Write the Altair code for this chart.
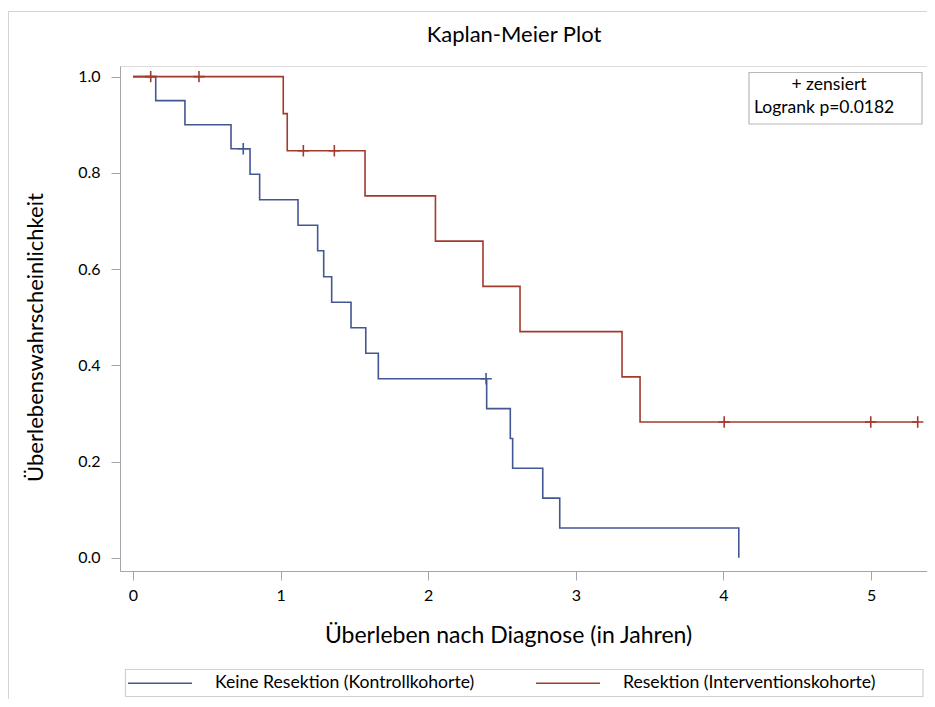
import altair as alt
import pandas as pd

BLUE = "#445694"
RED = "#A23A2E"
FONT = "Lato"

groups = ["Keine Resektion (Kontrollkohorte)", "Resektion (Interventionskohorte)"]

# step curves: time of each event and survival after it
blue_t = [0, 0.154, 0.352, 0.664, 0.793, 0.858, 1.118, 1.251, 1.292, 1.346, 1.477, 1.577, 1.662, 2.396, 2.556, 2.572, 2.776, 2.891, 4.104]
blue_s = [1.0, 0.950, 0.900, 0.850, 0.797, 0.744, 0.691, 0.638, 0.584, 0.531, 0.478, 0.425, 0.372, 0.310, 0.248, 0.186, 0.124, 0.062, 0.0]
red_t = [0, 1.018, 1.045, 1.572, 2.049, 2.371, 2.622, 3.313, 3.435, 5.320]
red_s = [1.0, 0.923, 0.846, 0.752, 0.658, 0.564, 0.470, 0.376, 0.282, 0.282]

# censored observations
blue_cens_t = [0.747, 2.392]
blue_cens_s = [0.850, 0.372]
red_cens_t = [0.120, 0.447, 1.154, 1.364, 4.005, 4.998, 5.316]
red_cens_s = [1.0, 1.0, 0.846, 0.846, 0.282, 0.282, 0.282]

x_ticks = [0, 1, 2, 3, 4, 5]
y_ticks = [0.0, 0.2, 0.4, 0.6, 0.8, 1.0]

title_text = "Kaplan-Meier Plot"
note_lines = ["+ zensiert", "Logrank p=0.0182"]

curves = pd.DataFrame(
    {"t": blue_t + red_t,
     "s": blue_s + red_s,
     "g": [groups[0]] * len(blue_t) + [groups[1]] * len(red_t),
     "o": list(range(len(blue_t))) + list(range(len(red_t)))}
)
bc = pd.DataFrame({"t": blue_cens_t, "s": blue_cens_s})
rc = pd.DataFrame({"t": red_cens_t, "s": red_cens_s})

W, H = 807, 505
AXC = "#a3a7ab"

xs = alt.Scale(domain=[-0.088, 5.379], nice=False, zero=False)
ys = alt.Scale(domain=[-0.0275, 1.022], nice=False, zero=False)

xax = alt.Axis(values=x_ticks, format="d", title="Überleben nach Diagnose (in Jahren)",
               grid=False, tickSize=9, labelPadding=7, domainColor=AXC, tickColor=AXC,
               labelFont=FONT, labelFontSize=16, labelColor="black",
               titleFont=FONT, titleFontSize=23, titleFontWeight="normal", titleColor="black",
               titleX=388, titleY=64, titleBaseline="middle", titleAlign="center")
yax = alt.Axis(values=y_ticks, format=".1f", title="Überlebenswahrscheinlichkeit",
               grid=False, tickSize=9, labelPadding=11, domainColor=AXC, tickColor=AXC,
               labelFont=FONT, labelFontSize=16, labelColor="black",
               titleFont=FONT, titleFontSize=22, titleFontWeight="normal", titleColor="black",
               titleX=-85, titleY=271, titleBaseline="middle", titleAlign="center", titleAngle=-90)

lines = alt.Chart(curves).mark_line(interpolate="step-after", strokeWidth=1.6).encode(
    x=alt.X("t:Q", scale=xs, axis=xax),
    y=alt.Y("s:Q", scale=ys, axis=yax),
    order="o:Q",
    color=alt.Color("g:N", scale=alt.Scale(domain=groups, range=[BLUE, RED]),
                    legend=alt.Legend(title=None, orient="none", legendX=7, legendY=584,
                                      direction="horizontal", symbolType="stroke",
                                      symbolSize=4096, symbolStrokeWidth=1.5,
                                      labelFont=FONT, labelFontSize=17.6, labelColor="black",
                                      labelOffset=22, columnPadding=58, padding=0,
                                      labelLimit=400)),
)

PLUS = "M-1,0L1,0M0,-1L0,1"
bpts = alt.Chart(bc).mark_point(shape=PLUS, size=130, filled=False, strokeWidth=1.6, color=BLUE, opacity=1).encode(
    x=alt.X("t:Q", scale=xs), y=alt.Y("s:Q", scale=ys))
rpts = alt.Chart(rc).mark_point(shape=PLUS, size=130, filled=False, strokeWidth=1.6, color=RED, opacity=1).encode(
    x=alt.X("t:Q", scale=xs), y=alt.Y("s:Q", scale=ys))

one = pd.DataFrame({"a": [0]})
# decorations: outer border, inset box, legend box
outer = alt.Chart(one).mark_rect(fill=None, stroke="#d3d3d3", strokeWidth=1).encode(
    x=alt.value(-111.5), x2=alt.value(830), y=alt.value(-54.5), y2=alt.value(700))
inset = alt.Chart(one).mark_rect(fill="white", stroke="#b8b8b8", strokeWidth=1.2).encode(
    x=alt.value(629), x2=alt.value(802), y=alt.value(6.5), y2=alt.value(58))
legbox = alt.Chart(one).mark_rect(fill=None, stroke="#d0d0d0", strokeWidth=1.2).encode(
    x=alt.value(5.5), x2=alt.value(803), y=alt.value(603.5), y2=alt.value(630.5))
title = alt.Chart(one).mark_text(text=title_text, font=FONT, fontSize=22, align="center", baseline="middle", color="black").encode(
    x=alt.value(394), y=alt.value(-31))
t1 = alt.Chart(one).mark_text(text=note_lines[0], font=FONT, fontSize=17.5, align="center", baseline="middle", color="black").encode(
    x=alt.value(709), y=alt.value(19))
t2 = alt.Chart(one).mark_text(text=note_lines[1], font=FONT, fontSize=17.5, align="left", baseline="middle", color="black").encode(
    x=alt.value(634), y=alt.value(42))

chart = alt.layer(outer, inset, legbox, title, t1, t2, lines, bpts, rpts).properties(
    width=W, height=H,
    autosize=alt.AutoSizeParams(type="none"),
    padding={"left": 112, "top": 58, "right": 0, "bottom": 128},
).configure_view(stroke=AXC, strokeWidth=1.2).configure(background="white")

chart.save("out.html", embed_options={"renderer": "svg", "actions": False})
